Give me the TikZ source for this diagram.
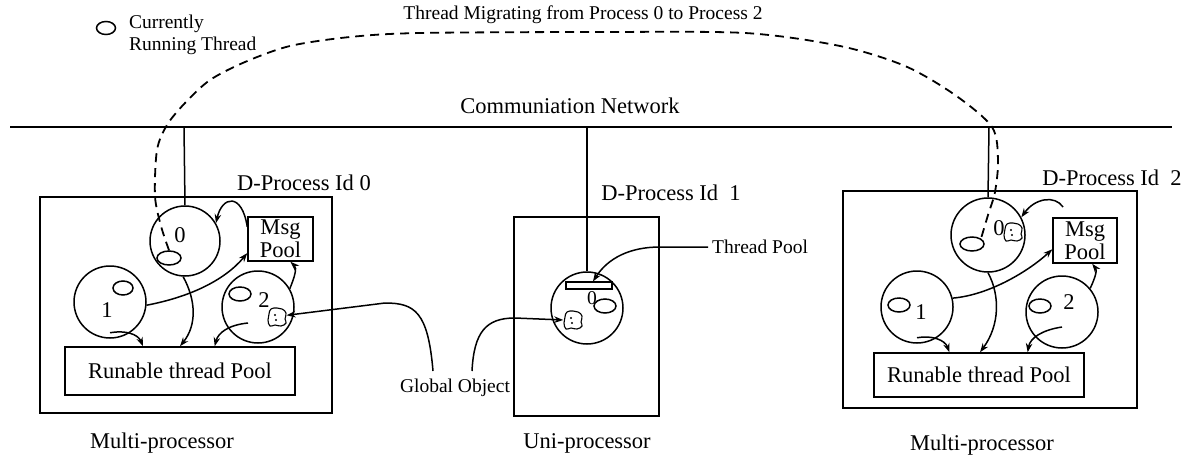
\documentclass[tikz,border=0pt]{standalone}
\usepackage{fontspec}
\setmainfont{Liberation Serif}
\usetikzlibrary{arrows.meta,shapes.geometric,calc}

\begin{document}
\begin{tikzpicture}[x=1pt,y=-1pt,line width=1.5pt,
  big/.style={font=\fontsize{22.5}{23}\selectfont},
  small/.style={font=\fontsize{19.5}{22}\selectfont},
  thread/.style={circle,draw,inner sep=0pt,minimum size=72pt},
  frame/.style={draw,rectangle,inner sep=0pt},
  tcb/.style={ellipse,draw,inner sep=0pt,minimum width=24pt,minimum height=14pt},
  gobj/.style={circle,inner sep=0pt,minimum size=18pt},
  flow/.style={-{Stealth[length=9pt,width=6.5pt]}},
  migrate/.style={line width=1.8pt,dash pattern=on 9pt off 6pt},
  blob/.pic={
    \draw[line width=1.1pt] plot[smooth cycle,tension=0.8] coordinates
      {(0,-9)(5,-8)(9,-4)(8,2)(9,6)(4,9)(-2,8)(-7,9)(-9,3)(-8,-3)(-6,-8)};
    \fill (-2,-2) circle[radius=1.1pt] (-1,3) circle[radius=1.1pt];
  }]
\useasboundingbox (0,0) rectangle (1185,455);

% ---------- legend and titles ----------
\node[tcb,minimum width=19pt,minimum height=13pt] (legend) at (106,28) {};
\node[small,align=left,anchor=west] (legtxt) at (125,35) {Currently\\Running Thread};
\node[small] (migtxt) at (583,15) {Thread Migrating from Process 0 to Process 2};
\node[big] (nettxt) at (570,106) {Communiation Network};

% ---------- network ----------
\coordinate (netL) at (10,127);
\coordinate (netR) at (1172,127);
\draw (netL) -- (netR);
\coordinate (n0) at (184,127);
\coordinate (n1) at (587,127);
\coordinate (n2) at (989,127);

% ---------- D-Process 0 (multi-processor) ----------
\node[frame,minimum width=292pt,minimum height=216pt] (box0) at (186,305) {};
\node[big] (lab0) at (304,183) {D-Process Id 0};
\node[thread,minimum size=70pt] (t00) at (185,241) {};
\node[thread] (t01) at (110,302) {};
\node[thread] (t02) at (258,307) {};
\node[big] at (180,235) {0};
\node[big] at (107,310) {1};
\node[big] at (264,300) {2};
\node[tcb] (e00) at (169,258) {};
\node[tcb,minimum width=20pt] (e01) at (123,288) {};
\node[tcb,minimum width=22pt] (e02) at (240,294) {};
\node[frame,big,align=center,minimum width=65pt,minimum height=44pt] (msg0) at (280.5,239) {Msg\\Pool};
\node[frame,big,minimum width=230pt,minimum height=48pt] (run0) at (180,371) {Runable thread Pool};
\node[gobj] (g0) at (277,317) {};
\pic at (277,317) {blob};

\draw (n0) -- (t00.north);
\draw[flow] (msg0.160) .. controls (242,192) and (222,196) .. (t00.30);
\draw[flow] (t01.-5) .. controls (190,297) and (225,280) .. (msg0.203);
\draw[flow] (t00.-93) .. controls (196,300) and (197,325) .. (run0.north);
\draw[flow] ($(t01.south)+(0,-6)$) .. controls (125,330) and (138,334) .. ($(run0.north west)!0.34!(run0.north east)$);
\draw[flow] ($(t02.center)+(-10,16)$) .. controls (228,325) and (218,333) .. ($(run0.north west)!0.65!(run0.north east)$);
\draw[flow] (t02.30) .. controls (295,276) and (297,268) .. ($(msg0.south west)!0.65!(msg0.south east)$);

% ---------- D-Process 1 (uni-processor) ----------
\node[frame,minimum width=145pt,minimum height=199pt] (box1) at (586.5,316.5) {};
\node[big] (lab1) at (671,193) {D-Process Id\ \ 1};
\node[thread] (t10) at (587,308) {};
\node[frame,line width=1.2pt,minimum width=46pt,minimum height=7pt] (bar) at (589,285.5) {};
\node[small] at (592,298) {0};
\node[tcb,minimum width=22pt] (e10) at (605,306) {};
\node[gobj] (g1) at (573,320) {};
\pic at (573,320) {blob};
\node[small,anchor=west] (tp) at (708,247) {Thread Pool};

\draw (n1) -- (t10.north);
\draw[flow] (tp.west) -- (660,247) .. controls (630,247) and (608,258) .. ($(bar.north)+(4,0)$);

% ---------- global object ----------
\node[small] (go) at (455,388) {Global Object};
\coordinate (gol) at (433,371);
\coordinate (gor) at (472,371);
\draw[flow] (gol) .. controls (428,312) and (415,303) .. (385,303) -- (g0.10);
\draw[flow] (gor) .. controls (474,332) and (486,318) .. (515,318) -- (g1.west);

% ---------- D-Process 2 (multi-processor) ----------
\node[frame,minimum width=294pt,minimum height=217pt] (box2) at (990,299.5) {};
\node[big] (lab2) at (1112,178) {D-Process Id\ \ 2};
\node[thread,minimum size=74pt] (t20) at (988,235) {};
\node[thread] (t21) at (917,307) {};
\node[thread] (t22) at (1062,312) {};
\node[big] at (999,228) {0};
\node[big] at (921,312) {1};
\node[big] at (1069,302) {2};
\node[tcb] (e20) at (972,244) {};
\node[tcb,minimum width=22pt] (e21) at (899,305) {};
\node[tcb,minimum width=22pt] (e22) at (1040,306) {};
\node[frame,big,align=center,minimum width=64pt,minimum height=45pt] (msg2) at (1085,240.5) {Msg\\Pool};
\node[frame,big,minimum width=210pt,minimum height=44pt] (run2) at (979,375) {Runable thread Pool};
\node[gobj] (g2) at (1013,232) {};
\pic at (1013,232) {blob};

\draw (n2) -- (t20.north);
\coordinate (m2) at (1063,207);
\draw[flow] (m2) .. controls (1055,195) and (1035,198) .. (t20.28);
\draw[flow] (t21.14) .. controls (990,295) and (1030,270) .. (msg2.195);
\draw[flow] (t20.south) .. controls (1000,295) and (1000,325) .. ($(run2.north west)!0.505!(run2.north east)$);
\draw[flow] ($(t21.south)+(0,-6)$) .. controls (932,335) and (945,340) .. ($(run2.north west)!0.36!(run2.north east)$);
\draw[flow] ($(t22.center)+(0,15)$) .. controls (1042,330) and (1030,338) .. ($(run2.north west)!0.73!(run2.north east)$);
\draw[flow] (t22.40) .. controls (1096,276) and (1097,270) .. ($(msg2.south west)!0.61!(msg2.south east)$);

% ---------- thread migration path ----------
\draw[migrate] plot[smooth] coordinates {(e00.north) (161,226) (155,196) (157,150)
  (167,125) (185,103) (210,80) (245,62) (290,46) (350,37) (420,33) (600,32)
  (745,33) (840,46) (905,66) (955,95) (992,127) (998,160) (995,192) (988,215) (e20.north east)};

% ---------- captions ----------
\node[big] (cap0) at (162,443) {Multi-processor};
\node[big] (cap1) at (587,443) {Uni-processor};
\node[big] (cap2) at (982,445) {Multi-processor};
\end{tikzpicture}
\end{document}
